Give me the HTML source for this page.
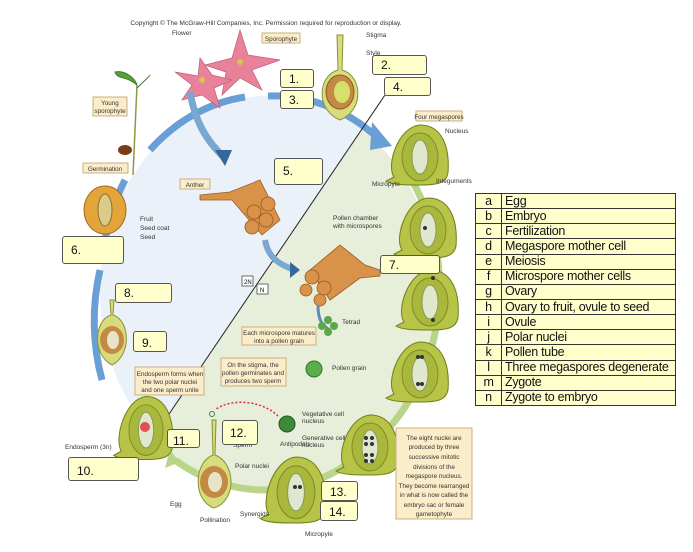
<!DOCTYPE html>
<html><head><meta charset="utf-8"><style>
body{margin:0;background:#fff;width:693px;height:552px;overflow:hidden;font-family:"Liberation Sans",sans-serif}
svg{position:absolute;left:0;top:0}
.lb{position:absolute;background:#ffffcc;border:1px solid #555;border-radius:3px;font-size:12px;padding:2px 0 0 8px;box-sizing:border-box;color:#111}
table{position:absolute;left:475px;top:193px;width:201px;height:213px;border-collapse:collapse;background:#ffffcc;font-size:12.5px;color:#111}
td{border:1.5px solid #333;height:14px;padding:0 3px;line-height:13px;letter-spacing:-0.3px}
td:first-child{width:19px;text-align:center}
</style></head><body>
<svg width="693" height="552" viewBox="0 0 693 552">
<defs>
<clipPath id="ring"><ellipse cx="268" cy="292" rx="168" ry="196"/></clipPath>
<g id="ov"><path d="M-26,22 C-34,10 -22,-28 0,-30 C22,-30 30,-8 28,18 C26,28 18,30 0,30 C-14,30 -28,30 -34,26 Z" fill="#b8c447" stroke="#6f7f1c"/><ellipse cx="0" cy="2" rx="18" ry="24" fill="#a9b83c" stroke="#7d8d25"/><ellipse cx="0" cy="2" rx="8" ry="17" fill="#dfe8cf" stroke="#8a9a50"/></g>
</defs>
<text x="266" y="25" font-size="6.5" text-anchor="middle" fill="#333">Copyright © The McGraw-Hill Companies, Inc. Permission required for reproduction or display.</text>
<g clip-path="url(#ring)">
<rect x="0" y="0" width="693" height="552" fill="#eaf1f8"/>
<polygon points="385,95 165,420 100,560 700,560 700,60" fill="#e7eed9"/>
</g>
<path d="M268,96 A168,196 0 0 1 385,145" fill="none" stroke="#6a9fd6" stroke-width="7"/>
<path d="M150,150 A168,196 0 0 1 245,97" fill="none" stroke="#6a9fd6" stroke-width="7"/>
<path d="M105,240 A168,196 0 0 1 125,180" fill="none" stroke="#6a9fd6" stroke-width="7"/>
<path d="M102,380 A168,196 0 0 1 100,270" fill="none" stroke="#6a9fd6" stroke-width="7"/>
<path d="M395,155 A168,196 0 0 1 372,445" fill="none" stroke="#b9d58a" stroke-width="7"/>
<path d="M360,455 A168,196 0 0 1 175,460" fill="none" stroke="#b9d58a" stroke-width="7"/>
<polygon points="372,122 392,146 370,150" fill="#6a9fd6"/>
<polygon points="170,450 180,462 165,468" fill="#b9d58a"/>
<line x1="385" y1="95" x2="165" y2="420" stroke="#222" stroke-width="1"/>
<g fill="#e7829a" stroke="#c45a76" stroke-width=".7">
<polygon points="240,30 248,55 280,60 252,70 262,90 240,78 222,95 226,72 205,65 232,58"/>
<polygon points="200,58 212,75 232,80 214,88 220,108 202,95 182,100 192,85 175,72 198,76"/>
</g>
<circle cx="240" cy="62" r="3" fill="#d9c34a"/><circle cx="202" cy="80" r="3" fill="#d9c34a"/>
<path d="M190,92 C195,120 205,140 225,158" fill="none" stroke="#7aa7d0" stroke-width="7"/>
<polygon points="215,150 225,166 232,150" fill="#35689a"/>
<path d="M337,35 L343,35 L342,70 C362,75 365,110 340,120 C315,110 318,75 338,70 Z" fill="#d7dc7d" stroke="#8a9130"/>
<ellipse cx="340" cy="92" rx="14" ry="17" fill="#c48a45" stroke="#8a5a20"/>
<ellipse cx="342" cy="92" rx="8" ry="11" fill="#d6e06c"/>
<line x1="137" y1="85" x2="133" y2="175" stroke="#8a9a40" stroke-width="1.5"/>
<path d="M137,85 C125,75 118,80 115,72 C125,70 135,78 137,85 M137,88 C145,80 150,76 150,75" fill="#58a03a" stroke="#3d7a25"/>
<ellipse cx="125" cy="150" rx="7" ry="5" fill="#7a3e16"/>
<ellipse cx="105" cy="210" rx="21" ry="24" fill="#e3a43a" stroke="#a06a18"/>
<ellipse cx="105" cy="210" rx="7" ry="16" fill="#d9cc88" stroke="#8c7030"/>
<g fill="#d8924a" stroke="#9a5a20" stroke-width=".8">
<polygon points="200,195 230,192 260,180 280,220 262,235 232,200 200,200"/>
<circle cx="254" cy="212" r="7"/><circle cx="268" cy="204" r="7"/><circle cx="252" cy="227" r="7"/><circle cx="266" cy="220" r="7"/>
<polygon points="310,270 340,245 365,265 380,270 380,276 360,278 330,300"/>
<circle cx="312" cy="277" r="7"/><circle cx="324" cy="288" r="7"/><circle cx="306" cy="290" r="6"/><circle cx="320" cy="300" r="6"/>
</g>
<path d="M265,240 C268,258 280,265 295,270" fill="none" stroke="#7aa7d0" stroke-width="6"/>
<polygon points="290,262 300,270 290,278" fill="#35689a"/>
<path d="M318,305 C318,320 322,326 330,330" fill="none" stroke="#5a8cc0" stroke-width="3"/>
<g fill="#5aa84a"><circle cx="328" cy="320" r="4"/><circle cx="334" cy="326" r="4"/><circle cx="328" cy="332" r="4"/><circle cx="322" cy="326" r="4"/></g>
<circle cx="314" cy="369" r="8" fill="#5cae4a" stroke="#2d7a25"/>
<circle cx="287" cy="424" r="8" fill="#3f8a3a" stroke="#1d5a1d"/>
<path d="M278,416 C262,400 230,398 215,410" fill="none" stroke="#d23040" stroke-width="1.5" stroke-dasharray="2,2"/>
<circle cx="212" cy="414" r="2.5" fill="none" stroke="#3a8a3a"/>
<use href="#ov" transform="translate(420,155)"/>
<use href="#ov" transform="translate(428,228)"/>
<use href="#ov" transform="translate(430,300)"/>
<use href="#ov" transform="translate(420,372)"/>
<use href="#ov" transform="translate(370,445)"/>
<use href="#ov" transform="translate(296,490) scale(1.05,1.1)"/>
<use href="#ov" transform="translate(146,428) scale(.95,1.05)"/>
<g fill="#333"><circle cx="425" cy="228" r="2"/><circle cx="433" cy="278" r="2"/><circle cx="433" cy="320" r="2"/><circle cx="418" cy="357" r="2"/><circle cx="422" cy="357" r="2"/><circle cx="418" cy="384" r="2"/><circle cx="422" cy="384" r="2"/>
<circle cx="366" cy="438" r="2"/><circle cx="372" cy="438" r="2"/><circle cx="366" cy="444" r="2"/><circle cx="372" cy="444" r="2"/><circle cx="366" cy="455" r="2"/><circle cx="372" cy="455" r="2"/><circle cx="366" cy="461" r="2"/><circle cx="372" cy="461" r="2"/>
<circle cx="295" cy="487" r="2"/><circle cx="300" cy="487" r="2"/></g>
<circle cx="145" cy="427" r="5" fill="#e05050"/>
<path d="M110,300 L114,300 L113,315 C130,320 132,355 112,365 C92,355 94,320 111,315 Z" fill="#d7dc7d" stroke="#8a9130"/>
<ellipse cx="112" cy="340" rx="12" ry="14" fill="#c48a45"/><ellipse cx="113" cy="340" rx="6" ry="9" fill="#e8e4c8"/>
<path d="M212,420 L216,420 L215,455 C235,462 238,500 214,508 C192,500 194,462 213,455 Z" fill="#d7dc7d" stroke="#8a9130"/>
<ellipse cx="214" cy="482" rx="14" ry="16" fill="#c48a45"/><ellipse cx="215" cy="482" rx="7" ry="10" fill="#e8e4c8"/>
<g font-size="6.5" fill="#333">
<text x="172" y="35">Flower</text><text x="366" y="37">Stigma</text><text x="366" y="55">Style</text>
<text x="140" y="221">Fruit</text><text x="140" y="230">Seed coat</text><text x="140" y="239">Seed</text>
<text x="445" y="133">Nucleus</text><text x="372" y="186">Micropyle</text><text x="436" y="183">Integuments</text>
<text x="333" y="220">Pollen chamber</text><text x="333" y="228">with microspores</text>
<text x="342" y="324">Tetrad</text><text x="332" y="370">Pollen grain</text>
<text x="302" y="416">Vegetative cell</text><text x="302" y="423">nucleus</text><text x="302" y="440">Generative cell</text><text x="302" y="447">nucleus</text>
<text x="65" y="449">Endosperm (3n)</text><text x="233" y="447">Sperm</text><text x="235" y="468">Polar nuclei</text>
<text x="170" y="506">Egg</text><text x="200" y="522">Pollination</text><text x="280" y="446">Antipodals</text><text x="240" y="516">Synergids</text><text x="305" y="536">Micropyle</text>
</g>
<g font-size="6.3" fill="#333" text-anchor="middle">
<rect x="262" y="33" width="38" height="10" fill="#fbedc9" stroke="#c9b080"/><text x="281" y="41">Sporophyte</text>
<rect x="93" y="97" width="34" height="19" fill="#fbedc9" stroke="#c9b080"/><text x="110" y="105">Young</text><text x="110" y="113">sporophyte</text>
<rect x="83" y="163" width="45" height="10" fill="#fbedc9" stroke="#c9b080"/><text x="105" y="171">Germination</text>
<rect x="180" y="179" width="30" height="10" fill="#fbedc9" stroke="#c9b080"/><text x="195" y="187">Anther</text>
<rect x="416" y="111" width="46" height="10" fill="#fbedc9" stroke="#c9b080"/><text x="439" y="119">Four megaspores</text>
<rect x="242" y="327" width="74" height="18" fill="#fbedc9" stroke="#c9b080"/><text x="279" y="335">Each microspore matures</text><text x="279" y="343">into a pollen grain</text>
<rect x="221" y="358" width="65" height="28" fill="#fbedc9" stroke="#c9b080"/><text x="253" y="367">On the stigma, the</text><text x="253" y="375">pollen germinates and</text><text x="253" y="383">produces two sperm</text>
<rect x="135" y="367" width="69" height="28" fill="#fbedc9" stroke="#c9b080"/><text x="170" y="376">Endosperm forms when</text><text x="170" y="384">the two polar nuclei</text><text x="170" y="392">and one sperm unite</text>
<rect x="396" y="428" width="76" height="91" fill="#fbedc9" stroke="#c9b080"/>
<text x="434" y="440">The eight nuclei are</text><text x="434" y="449">produced by three</text><text x="434" y="459">successive mitotic</text><text x="434" y="469">divisions of the</text><text x="434" y="478">megaspore nucleus.</text><text x="434" y="488">They become rearranged</text><text x="434" y="497">in what is now called the</text><text x="434" y="507">embryo sac or female</text><text x="434" y="516">gametophyte</text>
</g>
<rect x="242" y="276" width="11" height="10" fill="#fff" stroke="#333" stroke-width=".7"/><text x="244" y="284" font-size="6">2N</text>
<rect x="257" y="284" width="11" height="10" fill="#fff" stroke="#333" stroke-width=".7"/><text x="260" y="292" font-size="6">N</text>
</svg>
<div class="lb" style="left:280px;top:69px;width:34px;height:19px">1.</div>
<div class="lb" style="left:372px;top:55px;width:55px;height:20px">2.</div>
<div class="lb" style="left:280px;top:90px;width:34px;height:19px">3.</div>
<div class="lb" style="left:384px;top:77px;width:47px;height:19px">4.</div>
<div class="lb" style="left:274px;top:158px;width:49px;height:27px;padding-top:5px">5.</div>
<div class="lb" style="left:62px;top:236px;width:62px;height:28px;padding-top:6px">6.</div>
<div class="lb" style="left:380px;top:255px;width:60px;height:19px">7.</div>
<div class="lb" style="left:115px;top:283px;width:57px;height:20px">8.</div>
<div class="lb" style="left:133px;top:331px;width:34px;height:21px;padding-top:4px">9.</div>
<div class="lb" style="left:68px;top:457px;width:71px;height:24px;padding-top:6px">10.</div>
<div class="lb" style="left:167px;top:429px;width:33px;height:19px;padding-top:4px;padding-left:5px">11.</div>
<div class="lb" style="left:222px;top:420px;width:36px;height:25px;padding-top:5px;padding-left:7px">12.</div>
<div class="lb" style="left:321px;top:481px;width:37px;height:20px;padding-top:3px">13.</div>
<div class="lb" style="left:320px;top:501px;width:38px;height:20px;padding-top:3px">14.</div>
<table>
<tr><td>a</td><td>Egg</td></tr><tr><td>b</td><td>Embryo</td></tr><tr><td>c</td><td>Fertilization</td></tr><tr><td>d</td><td>Megaspore mother cell</td></tr><tr><td>e</td><td>Meiosis</td></tr><tr><td>f</td><td>Microspore mother cells</td></tr><tr><td>g</td><td>Ovary</td></tr><tr><td>h</td><td>Ovary to fruit, ovule to seed</td></tr><tr><td>i</td><td>Ovule</td></tr><tr><td>j</td><td>Polar nuclei</td></tr><tr><td>k</td><td>Pollen tube</td></tr><tr><td>l</td><td>Three megaspores degenerate</td></tr><tr><td>m</td><td>Zygote</td></tr><tr><td>n</td><td>Zygote to embryo</td></tr>
</table>
</body></html>
